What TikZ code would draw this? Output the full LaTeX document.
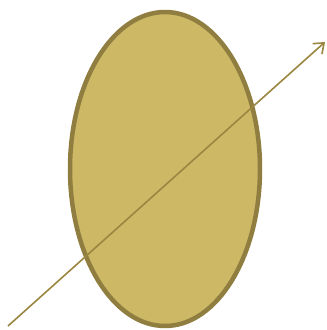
\documentclass[tikz,border=0pt]{standalone}
\usetikzlibrary{shapes.geometric,arrows.meta}
\definecolor{efill}{RGB}{205,184,102}
\definecolor{edraw}{RGB}{143,126,63}
\definecolor{aline}{RGB}{154,134,64}
\tikzset{
  blob/.style={ellipse, draw=edraw, fill=efill, line width=4.5bp, inner sep=0pt,
    minimum width=190bp, minimum height=314bp},
  ray/.style={draw=aline, line width=1.6bp, -{Straight Barb[length=9bp,width=14bp,line width=1.6bp]}}
}
\begin{document}
\begin{tikzpicture}[x=1bp,y=-1bp]
\useasboundingbox (0,0) rectangle (327,330);
\node[blob] (e) at (165,169) {};
\coordinate (s) at (8,326);
\coordinate (t) at (325,42);
\draw[ray] (s) -- (t);
\end{tikzpicture}
\end{document}
